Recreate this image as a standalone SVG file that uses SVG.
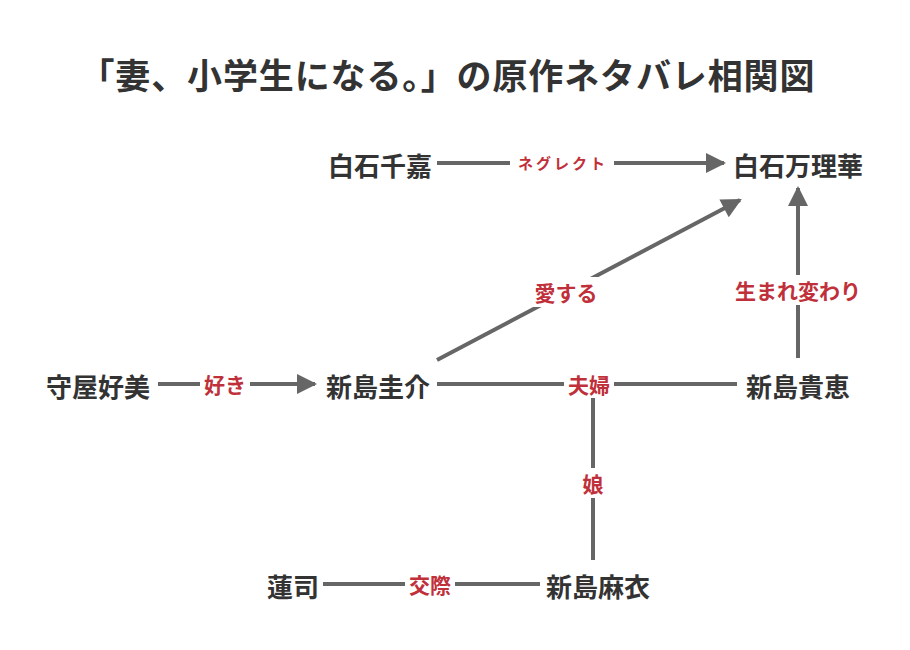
<svg xmlns="http://www.w3.org/2000/svg" width="910" height="650" viewBox="0 0 910 650">
<style>
text{font-family:"Noto Sans CJK JP","Noto Sans CJK SC",sans-serif;font-weight:bold;text-anchor:middle;dominant-baseline:central}
.n{font-size:26px;fill:#333}
.l{font-size:21px;fill:#c0303a}
.s{font-size:15px;fill:#c0303a;letter-spacing:3px}
.e{stroke:#666;stroke-width:4;fill:none}
.bg{fill:#fff}
</style>
<defs><marker id="a" viewBox="0 0 10 10" refX="9" refY="5" markerWidth="6" markerHeight="5" markerUnits="strokeWidth" orient="auto"><path d="M0,0L10,5L0,10z" fill="#666"/></marker></defs>
<rect width="910" height="650" fill="#fff"/>
<text x="447" y="73" textLength="735" lengthAdjust="spacing" style="font-size:35px;fill:#333">「妻、小学生になる。」の原作ネタバレ相関図</text>
<g id="edges">
<line class="e" x1="437" y1="163" x2="724" y2="163" marker-end="url(#a)"/>
<rect class="bg" x="510" y="151" width="104" height="24"/><text class="s" x="563" y="162">ネグレクト</text>
<line class="e" x1="158" y1="384" x2="315" y2="384" marker-end="url(#a)"/>
<rect class="bg" x="200" y="370" width="50" height="28"/><text class="l" x="225" y="384">好き</text>
<line class="e" x1="437" y1="360" x2="740" y2="200" marker-end="url(#a)"/>
<rect class="bg" x="530" y="277" width="72" height="30"/><text class="l" x="566" y="292">愛する</text>
<line class="e" x1="798" y1="358" x2="798" y2="188" marker-end="url(#a)"/>
<rect class="bg" x="728" y="275" width="140" height="30"/><text class="l" x="798" y="290">生まれ変わり</text>
<line class="e" x1="437" y1="384" x2="737" y2="384"/>
<rect class="bg" x="564" y="370" width="50" height="28"/><text class="l" x="589" y="384">夫婦</text>
<line class="e" x1="593" y1="398" x2="593" y2="560"/>
<rect class="bg" x="579" y="468" width="28" height="30"/><text class="l" x="593" y="483">娘</text>
<line class="e" x1="323" y1="584" x2="540" y2="584"/>
<rect class="bg" x="405" y="570" width="50" height="28"/><text class="l" x="430" y="584">交際</text>
</g>
<g id="n1"><text class="n" x="380" y="164">白石千嘉</text></g>
<g id="n2"><text class="n" x="798" y="164">白石万理華</text></g>
<g id="n3"><text class="n" x="98" y="385">守屋好美</text></g>
<g id="n4"><text class="n" x="378" y="385">新島圭介</text></g>
<g id="n5"><text class="n" x="798" y="385">新島貴恵</text></g>
<g id="n6"><text class="n" x="293" y="585">蓮司</text></g>
<g id="n7"><text class="n" x="598" y="585">新島麻衣</text></g>
</svg>
